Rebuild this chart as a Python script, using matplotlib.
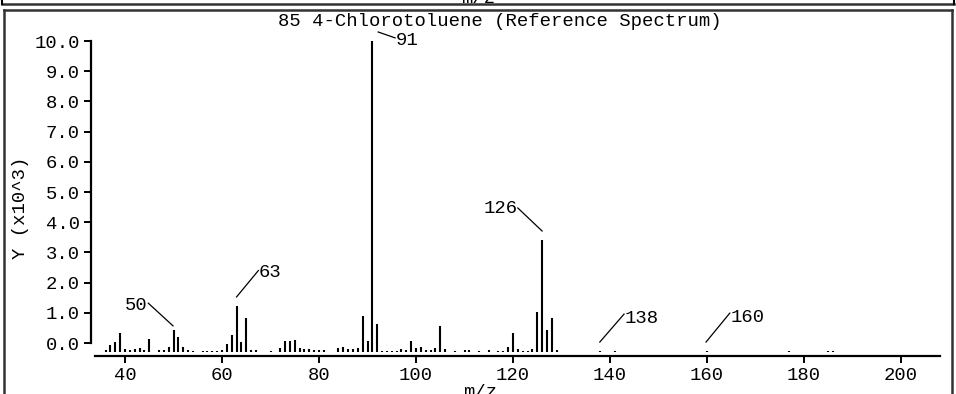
import matplotlib
matplotlib.use('Agg')
import matplotlib.pyplot as plt
from matplotlib.lines import Line2D

# ---- data -------------------------------------------------------------
mz = [36, 37, 38, 39, 40, 41, 42, 43, 44, 45, 47, 48, 49, 50, 51, 52, 53, 54,
      56, 57, 58, 59, 60, 61, 62, 63, 64, 65, 66, 67, 70,
      72, 73, 74, 75, 76, 77, 78, 79, 80, 81, 84, 85, 86, 87, 88, 89, 90, 91,
      92, 93, 94, 95, 96, 97, 98, 99, 100, 101, 102, 103, 104, 105, 106, 108,
      110, 111, 113, 115, 117, 118, 119, 120, 121, 122, 123, 124, 125, 126,
      127, 128, 129, 138, 141, 160, 177, 185, 186]
intensity = [50, 240, 320, 610, 90, 80, 110, 130, 50, 410, 50, 50, 160, 720, 480, 160, 50, 40,
             40, 40, 40, 40, 80, 270, 540, 1470, 320, 1090, 60, 50, 40,
             120, 350, 340, 380, 120, 100, 100, 80, 60, 50, 120, 150, 100, 100, 120, 1160, 350, 10000,
             910, 40, 40, 40, 40, 100, 80, 350, 120, 170, 60, 60, 120, 840, 100, 40,
             50, 50, 40, 60, 40, 40, 160, 610, 100, 40, 40, 100, 1290, 3610,
             720, 1100, 60, 30, 30, 30, 30, 40, 40]
labeled_peaks = [50, 63, 91, 126, 138, 160]
x_ticks = [40, 60, 80, 100, 120, 140, 160, 180, 200]
y_ticks = [0, 1, 2, 3, 4, 5, 6, 7, 8, 9, 10]
title = "85 4-Chlorotoluene (Reference Spectrum)"
x_label = "m/z"
y_label = "Y (x10^3)"

# ---- figure -------------------------------------------------------------
W, H = 956, 394
DPI = 100
fig = plt.figure(figsize=(W / DPI, H / DPI), dpi=DPI)
fig.patch.set_facecolor('white')
FONT = ['Liberation Mono', 'DejaVu Sans Mono']
FS = 13.6


def fx(px):
    return px / W


def fy(py):
    return 1 - py / H


# axes box in pixels
L, R, T, B = 91, 940, 30, 356
ax = fig.add_axes([fx(L), fy(B), fx(R) - fx(L), fy(T) - fy(B)])
# main (bar) scale: 0 at 352 px, 31.1 px per 1000
unit = 31.1
ax.set_ylim(-(B - 352) / unit, (352 - T) / unit)
# x: 40 -> 125 px, 4.85 px per m/z unit
xs = 4.85
ax.set_xlim(40 + (L - 125) / xs, 40 + (R - 125) / xs)

vals = [v / 1000 for v in intensity]
ax.vlines(mz, 0, vals, colors='black', linewidth=1.5)

for s in ['top', 'right', 'left']:
    ax.spines[s].set_visible(False)
ax.spines['bottom'].set_linewidth(1.6)
ax.spines['bottom'].set_bounds(40 + (95 - 125) / xs, 40 + (R - 125) / xs)
ax.set_xticks(x_ticks)
ax.set_xticklabels([str(t) for t in x_ticks], fontfamily=FONT, fontsize=FS)
ax.tick_params(axis='x', direction='out', length=5, width=1.4, pad=3)
ax.set_yticks([])
ax.patch.set_alpha(0)

# left tick axis (label scale, 0 at 343 px, 30.2 px per unit)
ax2 = ax.twinx()
u2 = 30.2
ax2.set_ylim(-(B - 343) / u2, (343 - T) / u2)
ax2.yaxis.set_ticks_position('left')
ax2.yaxis.set_label_position('left')
for s in ['top', 'right', 'bottom']:
    ax2.spines[s].set_visible(False)
ax2.spines['left'].set_visible(True)
ax2.spines['left'].set_linewidth(1.6)
ax2.spines['left'].set_bounds(0, 10)
ax2.set_yticks(y_ticks)
ax2.set_yticklabels([f"{t:.1f}" for t in y_ticks], fontfamily=FONT, fontsize=FS)
ax2.tick_params(axis='y', direction='out', length=5, width=1.4, pad=3)

# ---- peak labels --------------------------------------------------------
lookup = dict(zip(mz, vals))
ann = {
    50: dict(start=(-0.1, 0.12), end=(-5.2, 0.85), ha='right', dy=-0.08),
    63: dict(start=(0.0, 0.30), end=(4.5, 1.15), ha='left', dy=-0.05),
    91: dict(start=(1.2, 0.29), end=(4.7, 0.10), ha='left', dy=-0.08),
    126: dict(start=(0.0, 0.28), end=(-5.0, 1.02), ha='right', dy=0.0),
    138: dict(start=(-0.1, 0.29), end=(4.9, 1.19), ha='left', dy=-0.14),
    160: dict(start=(-0.2, 0.29), end=(4.7, 1.22), ha='left', dy=-0.14),
}
for p in labeled_peaks:
    a = ann[p]
    y0 = lookup.get(p, 0)
    x1, y1 = p + a['start'][0], y0 + a['start'][1]
    x2, y2 = p + a['end'][0], y0 + a['end'][1]
    ax.plot([x1, x2], [y1, y2], color='black', linewidth=0.9, clip_on=False)
    ax.text(x2 + (0.1 if a['ha'] == 'left' else -0.1), y2 + a['dy'], str(p),
            ha=a['ha'], va='center', fontfamily=FONT, fontsize=FS, clip_on=False)

# ---- texts --------------------------------------------------------------
fig.text(fx(500), fy(22), title, ha='center', va='center', fontfamily=FONT, fontsize=FS)
fig.text(fx(21), fy(208), y_label, ha='center', va='center', rotation=90,
         fontfamily=FONT, fontsize=FS)
fig.text(fx(480), fy(384), x_label, ha='center', va='top', fontfamily=FONT, fontsize=FS)
fig.text(fx(478), fy(3), x_label, ha='center', va='baseline', fontfamily=FONT, fontsize=FS)

# ---- frames -------------------------------------------------------------
def fline(xa, ya, xb, yb, lw=1.6, color='black'):
    fig.add_artist(Line2D([fx(xa), fx(xb)], [fy(ya), fy(yb)], color=color,
                          linewidth=lw, transform=fig.transFigure))

fline(2, 4, 954, 4, lw=1.8, color='#333333')
fline(2, 0, 2, 4, lw=1.5)
fline(954, 0, 954, 4, lw=1.5)
fline(4, 10, 952, 10, lw=1.8, color='#333333')
fline(4, 10, 4, 394, lw=1.8, color='#333333')
fline(952, 10, 952, 394, lw=1.8, color='#333333')

fig.savefig('out.png', dpi=DPI, facecolor='white')
